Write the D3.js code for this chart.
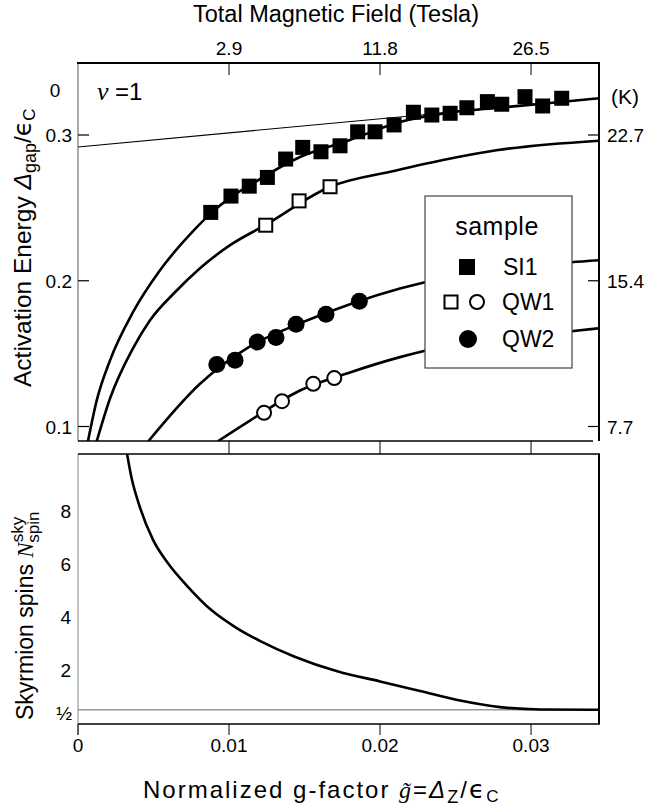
<!DOCTYPE html>
<html>
<head>
<meta charset="utf-8">
<script src="https://cdn.jsdelivr.net/npm/d3@7"></script>
<style>
body { margin: 0; background: #fff; }
text { font-family: "Liberation Sans", Arial, Helvetica, sans-serif; fill: #000; }
</style>
</head>
<body>
<script>
// ---- values ----
var gTicks = [0, 0.01, 0.02, 0.03];
var gTickLabels = ["0", "0.01", "0.02", "0.03"];
var teslaTicks = [0.01, 0.02, 0.03];
var teslaLabels = ["2.9", "11.8", "26.5"];
var gapTicks = [0.1, 0.2, 0.3];
var gapLabels = ["0.1", "0.2", "0.3"];
var kelvinLabels = ["7.7", "15.4", "22.7"];
var spinTicks = [2, 4, 6, 8];
var spinLabels = ["2", "4", "6", "8"];

// measured activation gaps
var si1G = [0.00879, 0.01013, 0.01134, 0.01254, 0.01375, 0.01488, 0.01609, 0.01735, 0.01852, 0.01967,
            0.02093, 0.02221, 0.02343, 0.02464, 0.02575, 0.02711, 0.02806, 0.02960, 0.03077, 0.03203];
var si1D = [0.2469, 0.2581, 0.2649, 0.2709, 0.2835, 0.2915, 0.2885, 0.2926, 0.3022, 0.3022,
            0.3069, 0.3156, 0.3137, 0.3149, 0.3187, 0.3229, 0.3211, 0.3263, 0.3199, 0.3252];
var qw1SqG = [0.01243, 0.01464, 0.01669];
var qw1SqD = [0.2381, 0.2548, 0.2645];
var qw1CircG = [0.01232, 0.01351, 0.01558, 0.01697];
var qw1CircD = [0.1094, 0.1174, 0.1293, 0.1332];
var qw2G = [0.00919, 0.01040, 0.01187, 0.01311, 0.01444, 0.01642, 0.01863];
var qw2D = [0.1426, 0.1454, 0.1579, 0.1610, 0.1701, 0.1770, 0.1859];

// single spin flip line
var flipG = [0, 0.0345];
var flipD = [0.2918, 0.3251];

// skyrmion theory curves
var curveAG = [0.00066, 0.00124, 0.00212, 0.00364, 0.00543, 0.00762, 0.00881, 0.01013, 0.01139, 0.0147, 0.01801, 0.02132, 0.02464, 0.02795, 0.03126, 0.0345];
var curveAD = [0.0899, 0.1179, 0.1454, 0.1784, 0.2072, 0.2340, 0.2464, 0.2574, 0.2656, 0.2849, 0.2966, 0.3089, 0.3155, 0.3188, 0.3220, 0.3252];
var curveBG = [0.00124, 0.00212, 0.00364, 0.00477, 0.00642, 0.00808, 0.01007, 0.01238, 0.0167, 0.021, 0.0245, 0.0277, 0.0345];
var curveBD = [0.0899, 0.1192, 0.1536, 0.1729, 0.1921, 0.2086, 0.2244, 0.2381, 0.2645, 0.2755, 0.2835, 0.2895, 0.2961];
var curveCG = [0.00466, 0.00808, 0.01139, 0.0147, 0.01801, 0.02132, 0.02298, 0.03265, 0.0345];
var curveCD = [0.0899, 0.1293, 0.1550, 0.1708, 0.1839, 0.1946, 0.1990, 0.2127, 0.2141];
var curveDG = [0.00926, 0.01139, 0.0147, 0.01801, 0.02132, 0.02298, 0.03265, 0.0345];
var curveDD = [0.0899, 0.1041, 0.1247, 0.1371, 0.1476, 0.1520, 0.1653, 0.1674];

// skyrmion spin number
var spinG = [0.00325, 0.00353, 0.00409, 0.00497, 0.00596, 0.00728, 0.00883, 0.01038, 0.01214, 0.01435,
             0.01722, 0.02, 0.02265, 0.0253, 0.02795, 0.0306, 0.0345];
var spinN = [10.15, 9.29, 8.16, 6.91, 6.03, 5.14, 4.26, 3.63, 3.07, 2.50,
             1.94, 1.57, 1.21, 0.85, 0.60, 0.51, 0.50];

// ---- layout ----
var width = 649, height = 808;
var L = 78, R = 599;
var topT = 63, topB = 441, botT = 454, botB = 724;

var svg = d3.select("body").append("svg")
    .attr("width", width)
    .attr("height", height);

var x = d3.scaleLinear().domain([0, 0.0345]).range([L, R]);
var yGap = d3.scaleLinear().domain([0.1, 0.3]).range([426.5, 135]);
var ySpin = d3.scaleLinear().domain([0, 8]).range([723, 511]);

function pairs(a, b) { return a.map(function(v, i) { return [v, b[i]]; }); }

var defs = svg.append("defs");
defs.append("clipPath").attr("id", "clipTop").append("rect")
    .attr("x", L).attr("y", topT).attr("width", R - L).attr("height", topB - topT);
defs.append("clipPath").attr("id", "clipBot").append("rect")
    .attr("x", L).attr("y", botT).attr("width", R - L).attr("height", botB - botT);

// ---- top panel ----
var lineTop = d3.line()
    .x(function(d) { return x(d[0]); })
    .y(function(d) { return yGap(d[1]); })
    .curve(d3.curveMonotoneX);

var gTop = svg.append("g").attr("clip-path", "url(#clipTop)");

gTop.append("path")
    .attr("d", lineTop(pairs(flipG, flipD)))
    .attr("fill", "none").attr("stroke", "#000").attr("stroke-width", 1.1);

[[curveAG, curveAD], [curveBG, curveBD], [curveCG, curveCD], [curveDG, curveDD]].forEach(function(c) {
    gTop.append("path")
        .attr("d", lineTop(pairs(c[0], c[1])))
        .attr("fill", "none").attr("stroke", "#000").attr("stroke-width", 2.6);
});

gTop.selectAll("rect.si1")
    .data(pairs(si1G, si1D))
    .enter().append("rect")
    .attr("class", "si1")
    .attr("x", function(d) { return x(d[0]) - 7.5; })
    .attr("y", function(d) { return yGap(d[1]) - 7.5; })
    .attr("width", 15).attr("height", 15)
    .attr("fill", "#000");

gTop.selectAll("rect.qw1")
    .data(pairs(qw1SqG, qw1SqD))
    .enter().append("rect")
    .attr("class", "qw1")
    .attr("x", function(d) { return x(d[0]) - 6.5; })
    .attr("y", function(d) { return yGap(d[1]) - 6.5; })
    .attr("width", 13).attr("height", 13)
    .attr("fill", "#fff").attr("stroke", "#000").attr("stroke-width", 2);

gTop.selectAll("circle.qw2")
    .data(pairs(qw2G, qw2D))
    .enter().append("circle")
    .attr("class", "qw2")
    .attr("cx", function(d) { return x(d[0]); })
    .attr("cy", function(d) { return yGap(d[1]); })
    .attr("r", 8.5)
    .attr("fill", "#000");

gTop.selectAll("circle.qw1")
    .data(pairs(qw1CircG, qw1CircD))
    .enter().append("circle")
    .attr("class", "qw1")
    .attr("cx", function(d) { return x(d[0]); })
    .attr("cy", function(d) { return yGap(d[1]); })
    .attr("r", 7)
    .attr("fill", "#fff").attr("stroke", "#000").attr("stroke-width", 2);

// legend
var lg = svg.append("g");
lg.append("rect").attr("x", 425).attr("y", 196).attr("width", 147).attr("height", 172)
    .attr("fill", "#fff").attr("stroke", "#444").attr("stroke-width", 1.2);
lg.append("text").attr("x", 497).attr("y", 235).attr("text-anchor", "middle")
    .style("font-size", "25px").style("letter-spacing", "0.5px").text("sample");
lg.append("rect").attr("x", 459).attr("y", 259).attr("width", 16).attr("height", 16).attr("fill", "#000");
lg.append("text").attr("x", 503).attr("y", 275).style("font-size", "23px").text("SI1");
lg.append("rect").attr("x", 444.5).attr("y", 295.5).attr("width", 13).attr("height", 13)
    .attr("fill", "#fff").attr("stroke", "#000").attr("stroke-width", 2);
lg.append("circle").attr("cx", 477).attr("cy", 302).attr("r", 7)
    .attr("fill", "#fff").attr("stroke", "#000").attr("stroke-width", 2);
lg.append("text").attr("x", 502).attr("y", 310).style("font-size", "23px").text("QW1");
lg.append("circle").attr("cx", 468).attr("cy", 339).attr("r", 9).attr("fill", "#000");
lg.append("text").attr("x", 502).attr("y", 347).style("font-size", "23px").text("QW2");

// top panel frame
svg.append("line").attr("x1", L).attr("x2", L).attr("y1", topT).attr("y2", topB)
    .attr("stroke", "#555").attr("stroke-width", 1);
svg.append("line").attr("x1", L - 1).attr("x2", R + 1).attr("y1", topT).attr("y2", topT)
    .attr("stroke", "#000").attr("stroke-width", 2);
svg.append("line").attr("x1", R).attr("x2", R).attr("y1", topT).attr("y2", topB)
    .attr("stroke", "#000").attr("stroke-width", 2);
svg.append("line").attr("x1", L).attr("x2", R - 6).attr("y1", topB).attr("y2", topB)
    .attr("stroke", "#000").attr("stroke-width", 1.5);

// top (tesla) axis ticks, inward
svg.selectAll("line.tTick").data(teslaTicks).enter().append("line")
    .attr("class", "tTick")
    .attr("x1", function(d) { return x(d); }).attr("x2", function(d) { return x(d); })
    .attr("y1", topT).attr("y2", topT + 12)
    .attr("stroke", "#000").attr("stroke-width", 1);
svg.selectAll("text.tLab").data(teslaTicks).enter().append("text")
    .attr("class", "tLab")
    .attr("x", function(d) { return x(d); }).attr("y", 55)
    .attr("text-anchor", "middle").style("font-size", "19px")
    .text(function(d, i) { return teslaLabels[i]; });

// ticks between the panels
svg.selectAll("line.midTick").data(teslaTicks).enter().append("line")
    .attr("class", "midTick")
    .attr("x1", function(d) { return x(d); }).attr("x2", function(d) { return x(d); })
    .attr("y1", topB).attr("y2", botT)
    .attr("stroke", "#000").attr("stroke-width", 1);

// left gap axis
svg.selectAll("line.gTick").data(gapTicks).enter().append("line")
    .attr("class", "gTick")
    .attr("x1", L).attr("x2", L + 11)
    .attr("y1", function(d) { return yGap(d); }).attr("y2", function(d) { return yGap(d); })
    .attr("stroke", "#000").attr("stroke-width", 1.2);
svg.selectAll("text.gLab").data(gapTicks).enter().append("text")
    .attr("class", "gLab")
    .attr("x", 72).attr("y", function(d) { return yGap(d) + 7; })
    .attr("text-anchor", "end").style("font-size", "19px")
    .text(function(d, i) { return gapLabels[i]; });
svg.append("text").attr("x", 55).attr("y", 97).attr("text-anchor", "middle")
    .style("font-size", "19px").text("0");

// right kelvin axis
svg.selectAll("line.kTick").data(gapTicks).enter().append("line")
    .attr("class", "kTick")
    .attr("x1", R - 11).attr("x2", R)
    .attr("y1", function(d) { return yGap(d); }).attr("y2", function(d) { return yGap(d); })
    .attr("stroke", "#000").attr("stroke-width", 1.2);
svg.selectAll("text.kLab").data(gapTicks).enter().append("text")
    .attr("class", "kLab")
    .attr("x", 607).attr("y", function(d) { return yGap(d) + 7; })
    .style("font-size", "19px")
    .text(function(d, i) { return kelvinLabels[i]; });
svg.append("text").attr("x", 611).attr("y", 104).style("font-size", "21px").text("(K)");

// nu = 1
svg.append("text").attr("x", 97).attr("y", 100)
    .style("font-family", "'Liberation Serif', 'DejaVu Serif', serif")
    .style("font-style", "italic").style("font-size", "26px").text("ν");
svg.append("text").attr("x", 115).attr("y", 100).style("font-size", "24px").text(" =1");

// titles
svg.append("text").attr("x", 336).attr("y", 22).attr("text-anchor", "middle")
    .style("font-size", "23.5px").text("Total Magnetic Field (Tesla)");

var yt = svg.append("text").attr("transform", "translate(31,387) rotate(-90)")
    .style("font-size", "24.5px");
yt.append("tspan").text("Activation Energy  ");
yt.append("tspan").style("font-style", "italic").text("Δ");
yt.append("tspan").attr("dy", 5).style("font-size", "18px").text("gap");
yt.append("tspan").attr("dy", -5).text("/");
yt.append("tspan").style("font-family", "'DejaVu Sans', sans-serif").style("font-size", "25px").text("ϵ");
yt.append("tspan").attr("dy", 4).style("font-size", "17px").text("C");

// ---- bottom panel ----
svg.append("line").attr("x1", L).attr("x2", R).attr("y1", ySpin(0.5)).attr("y2", ySpin(0.5))
    .attr("stroke", "#999").attr("stroke-width", 1.5);

var lineBot = d3.line()
    .x(function(d) { return x(d[0]); })
    .y(function(d) { return ySpin(d[1]); })
    .curve(d3.curveMonotoneX);

svg.append("g").attr("clip-path", "url(#clipBot)").append("path")
    .attr("d", lineBot(pairs(spinG, spinN)))
    .attr("fill", "none").attr("stroke", "#000").attr("stroke-width", 2.6);

svg.append("line").attr("x1", L).attr("x2", L).attr("y1", botT).attr("y2", botB + 11)
    .attr("stroke", "#888").attr("stroke-width", 1);
svg.append("line").attr("x1", L).attr("x2", R + 1).attr("y1", botT).attr("y2", botT)
    .attr("stroke", "#000").attr("stroke-width", 1.5);
svg.append("line").attr("x1", R).attr("x2", R).attr("y1", botT).attr("y2", botB)
    .attr("stroke", "#000").attr("stroke-width", 2);
svg.append("line").attr("x1", L).attr("x2", R + 1).attr("y1", botB).attr("y2", botB)
    .attr("stroke", "#000").attr("stroke-width", 1.5);

svg.selectAll("text.sLab").data(spinTicks).enter().append("text")
    .attr("class", "sLab")
    .attr("x", 71).attr("y", function(d) { return ySpin(d) + 7; })
    .attr("text-anchor", "end").style("font-size", "19px")
    .text(function(d, i) { return spinLabels[i]; });
svg.append("text").attr("x", 72).attr("y", ySpin(0.5) + 10).attr("text-anchor", "end")
    .style("font-size", "19px").text("½");

// bottom g axis
svg.selectAll("line.bTick").data(gTicks).enter().append("line")
    .attr("class", "bTick")
    .attr("x1", function(d) { return x(d); }).attr("x2", function(d) { return x(d); })
    .attr("y1", botB).attr("y2", botB + 11)
    .attr("stroke", "#000").attr("stroke-width", 1);
svg.selectAll("text.bLab").data(gTicks).enter().append("text")
    .attr("class", "bLab")
    .attr("x", function(d) { return x(d); }).attr("y", 752)
    .attr("text-anchor", "middle").style("font-size", "19px")
    .text(function(d, i) { return gTickLabels[i]; });

var xt = svg.append("text").attr("x", 143).attr("y", 798)
    .style("font-size", "24px").style("letter-spacing", "2px");
xt.append("tspan").text("Normalized g-factor ");
xt.append("tspan").style("font-family", "'Liberation Serif', 'DejaVu Serif', serif")
    .style("font-style", "italic").text("g\u0303");
xt.append("tspan").text("=");
xt.append("tspan").style("font-style", "italic").text("Δ");
xt.append("tspan").attr("dy", 5).style("font-size", "18px").text("Z");
xt.append("tspan").attr("dy", -5).text("/");
xt.append("tspan").style("font-family", "'DejaVu Sans', sans-serif").style("font-size", "25px").text("ϵ");
xt.append("tspan").attr("dy", 4).style("font-size", "17px").text("C");

var st = svg.append("text").attr("transform", "translate(33,720) rotate(-90)")
    .style("font-size", "23px");
st.append("tspan").text("Skyrmion spins  ");
st.append("tspan").style("font-family", "'Liberation Serif', 'DejaVu Serif', serif")
    .style("font-style", "italic").text("N");
st.append("tspan").attr("dy", -10).style("font-size", "17px").text("sky");
st.append("tspan").attr("dx", -26).attr("dy", 16).style("font-size", "17px").text("spin");
</script>
</body>
</html>
